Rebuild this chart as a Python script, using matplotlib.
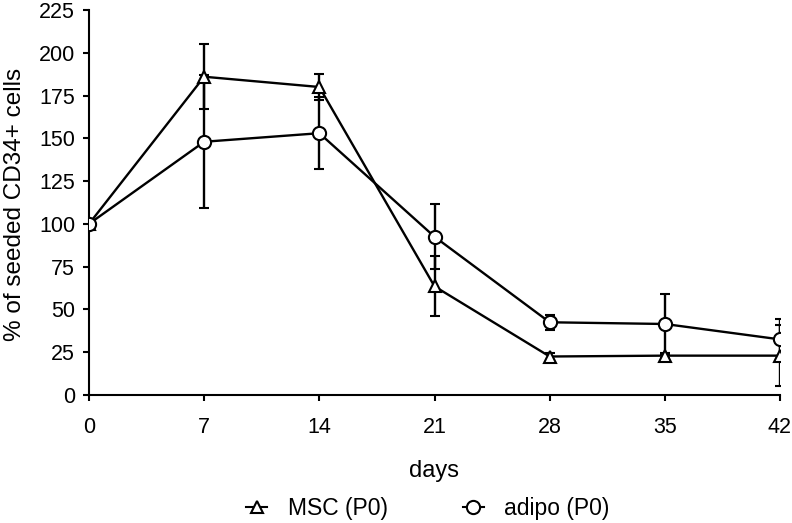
import matplotlib
matplotlib.use("Agg")
import matplotlib.pyplot as plt
from matplotlib.lines import Line2D

days = [0, 7, 14, 21, 28, 35, 42]
msc = [100, 186, 180, 63.5, 22.5, 23, 23]
msc_err = [0, 19, 7.5, 17.5, 2, 1.5, 18]
adipo = [100, 148, 153, 92.5, 42.5, 41.5, 32.5]
adipo_err = [0, 39, 21, 19, 4.4, 17.6, 12]
yticks = [0, 25, 50, 75, 100, 125, 150, 175, 200, 225]

plt.rcParams['font.family'] = ['Liberation Sans', 'DejaVu Sans']
fig = plt.figure(figsize=(7.92, 5.23), dpi=100)
L, R, T, B = 89, 780, 10, 395
ax = fig.add_axes([L/792, 1-B/523, (R-L)/792, (B-T)/523])

kw = dict(color='black', lw=1.7, mfc='white', mec='black', mew=1.5,
          capsize=3.5, capthick=1.7, elinewidth=1.7, zorder=3)
ax.errorbar(days, msc, yerr=msc_err, marker='^', ms=8.5, label='MSC (P0)', **kw)
ax.errorbar(days, adipo, yerr=adipo_err, marker='o', ms=9.5, label='adipo (P0)', **kw)

ax.set_xlim(0, 42)
ax.set_ylim(0, 225)
ax.set_xticks(days)
ax.set_yticks(yticks)
ax.spines['top'].set_visible(False)
ax.spines['right'].set_visible(False)
for s in ['left', 'bottom']:
    ax.spines[s].set_linewidth(1.5)
    ax.spines[s].set_clip_on(False)
ax.tick_params(axis='both', direction='out', length=4, width=1.5, labelsize=15.5)
ax.tick_params(axis='x', pad=12)
ax.tick_params(axis='y', pad=6)
ax.set_xlabel('days', fontsize=17, labelpad=16)
ax.set_ylabel('% of seeded CD34+ cells', fontsize=17.5, va='center')
ax.yaxis.set_label_coords(15/792, 1-204/523, transform=fig.transFigure)

handles = [Line2D([], [], color='black', lw=1.5, marker='^', ms=8.5, mfc='white', mew=1.5),
           Line2D([], [], color='black', lw=1.5, marker='o', ms=9.5, mfc='white', mew=1.5)]
fig.legend(handles, ['MSC (P0)', 'adipo (P0)'], loc='center', bbox_to_anchor=(428/792, 1-509/523),
           ncol=2, frameon=False, fontsize=16.5, handlelength=0.9, columnspacing=3.3,
           handletextpad=0.9)

fig.savefig('out.png', dpi=100)
